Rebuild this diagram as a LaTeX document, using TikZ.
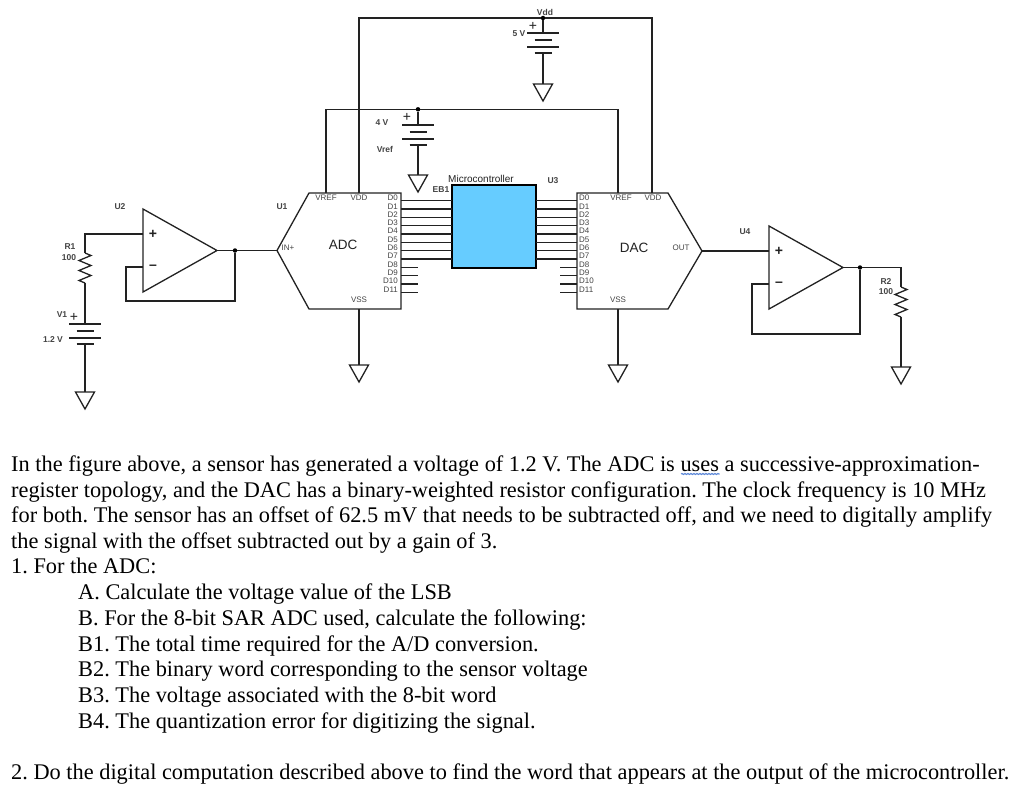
\documentclass[tikz,border=0pt]{standalone}
\usepackage{fontspec}
\setmainfont{Liberation Serif}
\setsansfont{Liberation Sans}
\usetikzlibrary{decorations.pathmorphing}
\definecolor{wirecol}{HTML}{222222}
\definecolor{labelcol}{HTML}{444444}
\definecolor{mcucol}{HTML}{66CCFF}
\definecolor{spellcol}{HTML}{5A86D8}
\tikzset{
  wire/.style={draw=wirecol, line width=1.3pt},
  dot/.style={circle, fill=black, inner sep=0pt, minimum size=4.5pt},
  lab/.style={font=\sffamily\bfseries\fontsize{8.5}{9}\selectfont, text=labelcol, inner sep=0pt},
  pin/.style={font=\sffamily\fontsize{8}{9}\selectfont, text=labelcol, inner sep=0pt},
  big/.style={font=\sffamily\fontsize{13.5}{15}\selectfont, text=wirecol, inner sep=0pt},
  sign/.style={font=\sffamily\fontsize{14}{14}\selectfont, text=wirecol, inner sep=0pt},
  para/.style={font=\fontsize{22.35}{25}\selectfont\frenchspacing, anchor=base west, inner sep=0pt, text=black},
  gnd/.pic={
    \coordinate (-top) at (0,0);
    \draw[wire] (-9.5,0) -- (9.5,0) -- (0,17) -- cycle;
  },
  bat/.pic={
    \coordinate (-top) at (0,0);
    \coordinate (-bot) at (0,20);
    \draw[wire] (-16,0) -- (16,0);
    \draw[wire] (-8.5,7) -- (8.5,7);
    \draw[wire] (-16,14) -- (16,14);
    \draw[wire] (-8.5,20) -- (8.5,20);
  },
  res/.pic={
    \coordinate (-top) at (0,0);
    \coordinate (-bot) at (0,30);
    \draw[wire] (0,0) -- (6,2.5) -- (-6,7.5) -- (6,12.5) -- (-6,17.5) -- (6,22.5) -- (-6,27.5) -- (0,30);
  },
  opamp/.pic={
    \coordinate (-p) at (0,25);
    \coordinate (-n) at (0,58);
    \coordinate (-o) at (74,41.5);
    \draw[wire] (0,0) -- (74,41.5) -- (0,83) -- cycle;
    \node[sign] (-pl) at (10,25) {\textbf{+}};
    \node[sign] (-mi) at (10,58) {\textbf{--}};
  }
}
\begin{document}
\begin{tikzpicture}[x=1pt,y=-1pt]
\fill[white] (0,0) rectangle (1024,789);
\useasboundingbox (0,0) rectangle (1024,789);

% ADC
\coordinate (adctip) at (277,250.5);
\coordinate (adcvref) at (326,193);
\coordinate (adcvdd) at (359,193);
\coordinate (adcvss) at (359,309);
\draw[wire] (adctip) -- (309,193) -- (401,193) -- (401,309) -- (309,309) -- cycle;
\node[big] (adclab) at (343,245) {ADC};
\node[pin] (adcin) at (288,248) {IN+};
\node[pin] (adcvreft) at (326,198) {VREF};
\node[pin] (adcvddt) at (359,198) {VDD};
\node[pin] (adcvsst) at (359,300) {VSS};

% DAC
\coordinate (dactip) at (702,251);
\coordinate (dacvref) at (618,193);
\coordinate (dacvdd) at (652,193);
\coordinate (dacvss) at (618,309);
\draw[wire] (577,193) -- (668,193) -- (dactip) -- (668,309) -- (577,309) -- cycle;
\node[big] (daclab) at (634,248) {DAC};
\node[pin] (dacout) at (681,248) {OUT};
\node[pin] (dacvreft) at (621,198) {VREF};
\node[pin] (dacvddt) at (653,198) {VDD};
\node[pin] (dacvsst) at (618,300) {VSS};

% Microcontrolador
\node[draw=black, line width=1.6pt, fill=mcucol, minimum width=84pt, minimum height=83pt, inner sep=0pt] (mcu) at (494,226.5) {};
\node[lab, font=\sffamily\fontsize{10}{10}\selectfont, text=wirecol] (mcutxt) at (481,179) {Microcontroller};
\node[lab] (eb) at (441,190) {EB1};

% Buses de datos
\foreach \i in {0,...,7} {
  \coordinate (al\i) at (401,200.7+8.33*\i);
  \coordinate (ml\i) at (452,200.7+8.33*\i);
  \coordinate (mr\i) at (536,200.7+8.33*\i);
  \coordinate (dl\i) at (577,200.7+8.33*\i);
  \draw[wire] (al\i) -- (ml\i);
  \draw[wire] (mr\i) -- (dl\i);
}
\foreach \i in {8,...,11} {
  \coordinate (al\i) at (401,200.7+8.33*\i);
  \coordinate (as\i) at (418,200.7+8.33*\i);
  \coordinate (dl\i) at (577,200.7+8.33*\i);
  \coordinate (ds\i) at (560,200.7+8.33*\i);
  \draw[wire] (al\i) -- (as\i);
  \draw[wire] (ds\i) -- (dl\i);
}
\foreach \i in {0,...,11} {
  \node[pin, anchor=east] (at\i) at (398,198+8.3*\i) {D\i};
  \node[pin, anchor=west] (dt\i) at (579,198+8.3*\i) {D\i};
}

% Vdd
\node[dot] (vdddot) at (543,18) {};
\draw[wire] (adcvdd) |- (vdddot);
\draw[wire] (vdddot) -| (dacvdd);
\pic (bvdd) at (543,33) {bat};
\pic (gvdd) at (543,84) {gnd};
\draw[wire] (vdddot) -- (bvdd-top);
\draw[wire] (bvdd-bot) -- (gvdd-top);
\node[lab] (vddt) at (545,12) {Vdd};
\node[lab] (fivev) at (519,34) {5 V};
\node[sign] (vddpl) at (533,26) {+};

% Vref
\node[dot] (vrefdot) at (418,109.3) {};
\draw[wire] (adcvref) |- (vrefdot);
\draw[wire] (vrefdot) -| (dacvref);
\pic (bvref) at (418,125) {bat};
\pic (gvref) at (418,175) {gnd};
\draw[wire] (vrefdot) -- (bvref-top);
\draw[wire] (bvref-bot) -- (gvref-top);
\node[lab] (fourv) at (382,123) {4 V};
\node[lab] (vreft) at (385,149) {Vref};
\node[sign] (vrefpl) at (407,117) {+};

% Tierras de ADC y DAC
\pic (gadc) at (359,365) {gnd};
\pic (gdac) at (618,365) {gnd};
\draw[wire] (adcvss) -- (gadc-top);
\draw[wire] (dacvss) -- (gdac-top);

% U2, seguidor de entrada
\pic (utwo) at (143,209) {opamp};
\node[dot] (utwodot) at (235,250.5) {};
\coordinate (fbtwoa) at (126,267);
\coordinate (fbtwob) at (126,301);
\coordinate (fbtwoc) at (235,301);
\draw[wire] (utwo-o) -- (utwodot) -- (adctip);
\draw[wire] (utwo-n) -- (fbtwoa) -- (fbtwob) -- (fbtwoc) -- (utwodot);
\pic (rone) at (85,253) {res};
\pic (bone) at (85,324) {bat};
\pic (gone) at (85,392) {gnd};
\draw[wire] (utwo-p) -| (rone-top);
\draw[wire] (rone-bot) -- (bone-top);
\draw[wire] (bone-bot) -- (gone-top);
\node[lab] (utwot) at (120,207) {U2};
\node[lab] (uonet) at (282,207) {U1};
\node[lab] (ronet) at (70,247) {R1};
\node[lab] (ronev) at (69,258) {100};
\node[lab] (vonet) at (62,315) {V1};
\node[sign] (vonepl) at (74,317) {+};
\node[lab] (vonev) at (53,340) {1.2 V};

% U4, seguidor de salida
\pic (ufour) at (769,226) {opamp};
\node[dot] (ufourdot) at (860,267.5) {};
\coordinate (fbfoura) at (752,284);
\coordinate (fbfourb) at (752,334);
\coordinate (fbfourc) at (860,334);
\draw[wire] (dactip) -- (ufour-p);
\draw[wire] (ufour-o) -- (ufourdot);
\draw[wire] (ufour-n) -- (fbfoura) -- (fbfourb) -- (fbfourc) -- (ufourdot);
\pic (rtwo) at (901,287) {res};
\pic (gtwo) at (901,367) {gnd};
\draw[wire] (ufourdot) -| (rtwo-top);
\draw[wire] (rtwo-bot) -- (gtwo-top);
\node[lab] (ufourt) at (745,232) {U4};
\node[lab] (uthreet) at (553,181) {U3};
\node[lab] (rtwot) at (886,282) {R2};
\node[lab] (rtwov) at (886,292) {100};

% Enunciado
\node[para] (l1) at (11,471) {In the figure above, a sensor has generated a voltage of 1.2 V. The ADC is uses a successive-approximation-};
\node[para] (l2) at (11,497) {register topology, and the DAC has a binary-weighted resistor configuration. The clock frequency is 10 MHz};
\node[para] (l3) at (11,522) {for both. The sensor has an offset of 62.5 mV that needs to be subtracted off, and we need to digitally amplify};
\node[para] (l4) at (11,548) {the signal with the offset subtracted out by a gain of 3.};
\node[para] (l5) at (11,573) {1. For the ADC:};
\node[para] (l6) at (78,599) {A. Calculate the voltage value of the LSB};
\node[para] (l7) at (78,625) {B. For the 8-bit SAR ADC used, calculate the following:};
\node[para] (l8) at (78,651) {B1. The total time required for the A/D conversion.};
\node[para] (l9) at (78,676) {B2. The binary word corresponding to the sensor voltage};
\node[para] (l10) at (78,702) {B3. The voltage associated with the 8-bit word};
\node[para] (l11) at (78,728) {B4. The quantization error for digitizing the signal.};
\node[para] (l12) at (11,779) {2. Do the digital computation described above to find the word that appears at the output of the microcontroller.};

% Subrayado de "uses"
\draw[spellcol, line width=1.1pt, decorate, decoration={snake, amplitude=0.5pt, segment length=3pt}] (681,474) -- (719.5,474);
\end{tikzpicture}
\end{document}
